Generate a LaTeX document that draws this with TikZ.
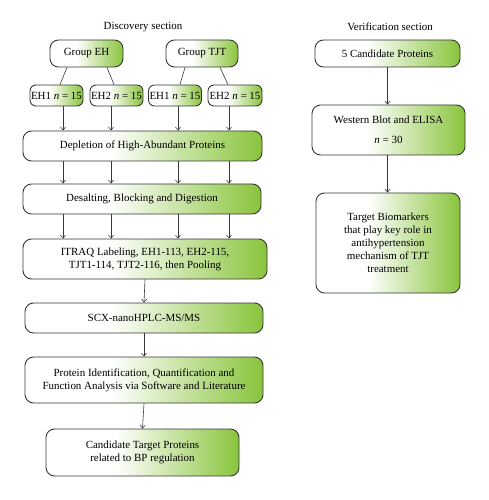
\documentclass[tikz,border=0pt]{standalone}
\usepackage{fontspec}
\setmainfont{Liberation Serif}
\usetikzlibrary{arrows.meta,calc}
\definecolor{gr}{RGB}{137,196,60}
\definecolor{edge}{RGB}{55,55,55}
\pgfdeclarehorizontalshading{wg}{100bp}{color(0bp)=(white); color(25bp)=(white); color(43bp)=(white); color(75bp)=(gr); color(100bp)=(gr)}
\tikzset{
  box/.style={draw=edge, line width=0.9pt, rounded corners=8.5bp, shading=wg, align=center,
    inner sep=1bp, font=\fontsize{11}{13}\selectfont, text=black},
  ttl/.style={font=\fontsize{11}{13}\selectfont, text=black},
  arr/.style={draw=edge, line width=0.6pt, -{Straight Barb[length=3bp,width=5bp]}},
  ln/.style={draw=edge, line width=0.6pt}
}
\begin{document}
\begin{tikzpicture}[x=1bp,y=-1bp]
\useasboundingbox (0,0) rectangle (489,500);
\node[ttl] (t1) at (143,27) {Discovery section};
\node[ttl] (t2) at (390,27) {Verification section};

\node[box, minimum width=73bp, minimum height=27bp] (gEH) at (86.5,53.5) {Group EH};
\node[box, minimum width=72bp, minimum height=27bp] (gTJT) at (202,53.5) {Group TJT};

\node[box, rounded corners=6bp, minimum width=53bp, minimum height=21bp] (s1) at (56.5,95.5) {EH1 \textit{n} = 15};
\node[box, rounded corners=6bp, minimum width=51bp, minimum height=21bp] (s2) at (116.5,95.5) {EH2 \textit{n} = 15};
\node[box, rounded corners=6bp, minimum width=52bp, minimum height=21bp] (s3) at (175,95.5) {EH1 \textit{n} = 15};
\node[box, rounded corners=6bp, minimum width=54bp, minimum height=21bp] (s4) at (235,95.5) {EH2 \textit{n} = 15};

\node[box, minimum width=239bp, minimum height=30bp] (dep) at (142.5,146) {Depletion of High-Abundant Proteins};
\node[box, minimum width=238bp, minimum height=30bp] (des) at (142,199) {Desalting, Blocking and Digestion};
\node[box, minimum width=244bp, minimum height=40bp] (itr) at (145,259) {ITRAQ Labeling, EH1-113, EH2-115,\\TJT1-114, TJT2-116, then Pooling};
\node[box, minimum width=238bp, minimum height=30bp] (scx) at (144,318) {SCX-nanoHPLC-MS/MS};
\node[box, minimum width=238bp, minimum height=46bp] (pid) at (144,380) {Protein Identification, Quantification and\\Function Analysis via Software and Literature};
\node[box, minimum width=193bp, minimum height=47bp] (cand) at (142.5,452.5) {Candidate Target Proteins\\related to BP regulation};

\node[box, minimum width=145bp, minimum height=27bp] (v1) at (387.5,53.5) {5 Candidate Proteins};
\node[box, minimum width=153bp, minimum height=50bp] (v2) at (388.5,130) {Western Blot and ELISA\\[7bp]\textit{n} = 30};
\node[box, minimum width=144bp, minimum height=100bp] (v3) at (388,243) {Target Biomarkers\\that play key role in\\antihypertension\\mechanism of TJT\\treatment};

% group to sub boxes
\draw[ln] ($(gEH.south)+(-19.5,0)$) -- ($(s1.north)+(3.5,0)$);
\draw[ln] ($(gEH.south)+(20.5,0)$) -- ($(s2.north)+(-2.5,0)$);
\draw[ln] ($(gTJT.south)+(-17,0)$) -- ($(s3.north)+(5,0)$);
\draw[ln] ($(gTJT.south)+(18,0)$) -- ($(s4.north)+(-7,0)$);

% vertical arrows
\coordinate (c1) at ([xshift=6.5bp]s1.south);
\coordinate (c2) at ([xshift=-5.5bp]s2.south);
\coordinate (c3) at ([xshift=3bp]s3.south);
\coordinate (c4) at ([xshift=-6bp]s4.south);
\foreach \c in {c1,c2,c3,c4}{
  \draw[arr] (\c) -- (\c |- dep.north);
  \draw[arr] (\c |- dep.south) -- (\c |- des.north);
  \draw[arr] (\c |- des.south) -- (\c |- itr.north);
}
\draw[arr] (itr.south) -- (scx.north);
\draw[arr] (scx.south) -- (pid.north);
\draw[arr] (pid.south) -- (cand.north);

\draw[arr] (v1.south) -- (v1.south |- v2.north);
\draw[arr] (v1.south |- v2.south) -- (v1.south |- v3.north);
\end{tikzpicture}
\end{document}
